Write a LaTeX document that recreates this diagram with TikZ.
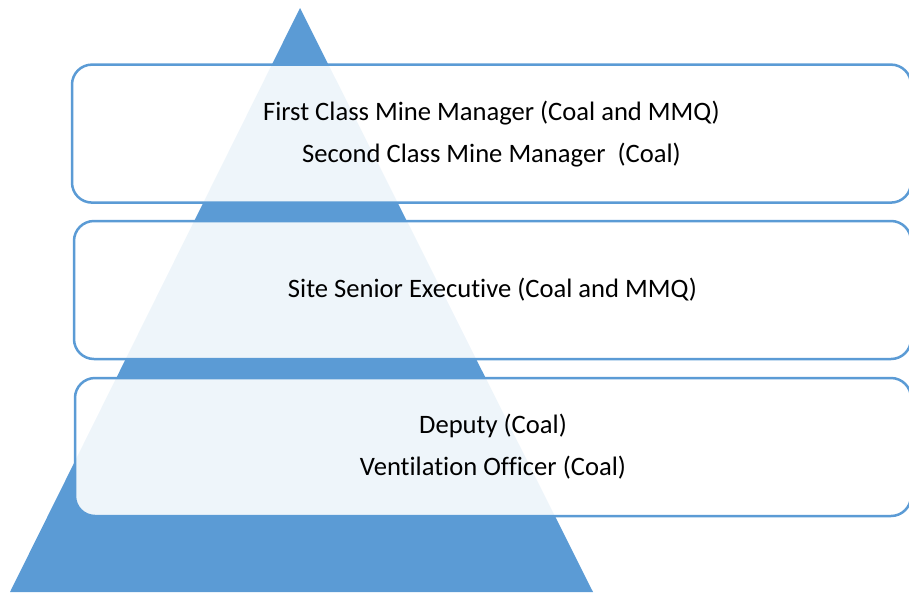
\documentclass[tikz,border=0pt]{standalone}
\usepackage{fontspec}
\setmainfont[Ligatures=NoCommon]{Carlito}
\definecolor{pyrblue}{HTML}{5B9BD5}
\tikzset{
  tierbox/.style={draw=pyrblue, line width=2.5pt, fill=white, fill opacity=0.9,
    text opacity=1, rounded corners=20pt, align=center, inner sep=0pt,
    font=\fontsize{26.6}{42}\selectfont, text=black},
}
\begin{document}
\begin{tikzpicture}[x=1pt,y=-1pt]
\useasboundingbox (0,0) rectangle (909,592);
\clip (0,0) rectangle (909,592);
\coordinate (apex) at (300,8);
\coordinate (bl) at (10,592);
\coordinate (br) at (593,592);
\fill[pyrblue] (apex) -- (bl) -- (br) -- cycle;
\node[tierbox, minimum width=839pt, minimum height=138pt] (t1) at (491.5,133.6)
  {First Class Mine Manager (Coal and MMQ)\\Second Class Mine Manager\ \ (Coal)};
\node[tierbox, minimum width=837pt, minimum height=138pt] (t2) at (492.5,290)
  {Site Senior Executive (Coal and MMQ)};
\node[tierbox, minimum width=836pt, minimum height=138pt] (t3) at (493,447)
  {Deputy (Coal)\\Ventilation Officer (Coal)};
\end{tikzpicture}
\end{document}
